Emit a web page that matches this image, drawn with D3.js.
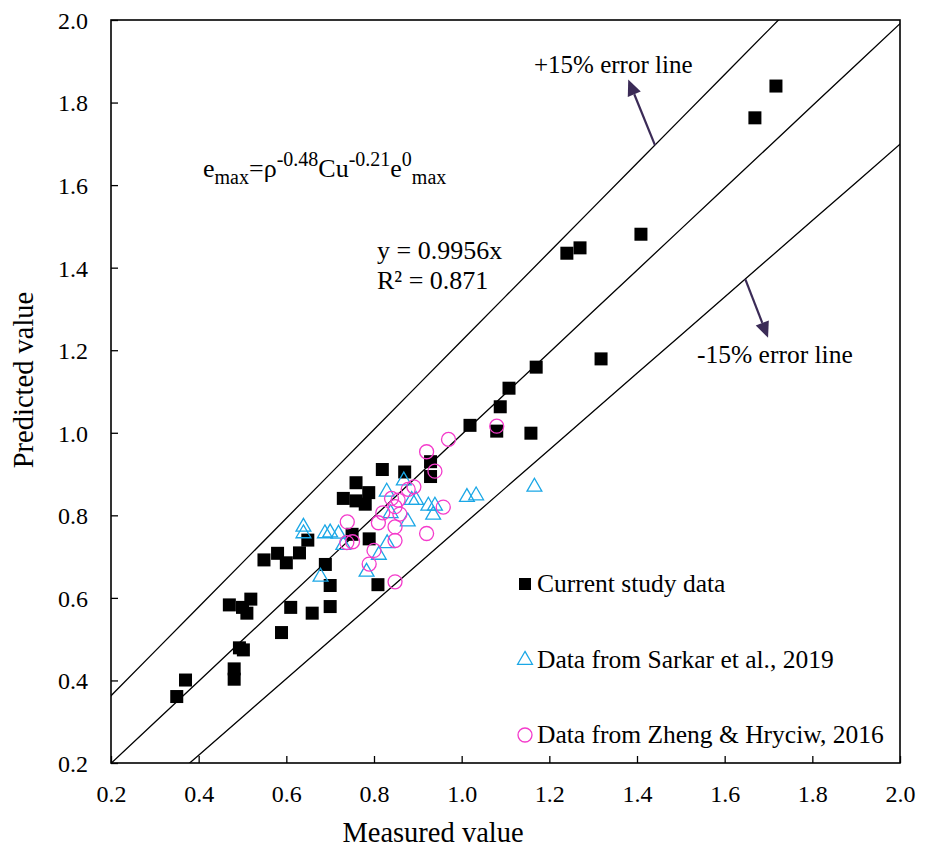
<!DOCTYPE html>
<html>
<head>
<meta charset="utf-8">
<script src="https://cdn.jsdelivr.net/npm/d3@7/dist/d3.min.js"></script>
<style>
  body { margin: 0; background: #fff; }
  text { font-family: "Liberation Serif", "Times New Roman", serif; fill: #000; }
</style>
</head>
<body>
<svg id="chart" width="930" height="849"></svg>
<script>
// Measured vs. predicted e_max for the three data sources
const currentStudy = [
  [0.350, 0.361], [0.370, 0.401], [0.470, 0.583], [0.481, 0.428], [0.481, 0.403],
  [0.493, 0.479], [0.502, 0.474], [0.500, 0.577], [0.510, 0.563], [0.519, 0.597],
  [0.549, 0.692], [0.580, 0.708], [0.589, 0.516], [0.600, 0.685], [0.610, 0.577],
  [0.630, 0.709], [0.649, 0.740], [0.659, 0.563], [0.689, 0.681], [0.700, 0.630],
  [0.700, 0.579], [0.730, 0.841], [0.750, 0.754], [0.759, 0.879], [0.759, 0.835],
  [0.780, 0.827], [0.788, 0.855], [0.789, 0.743], [0.809, 0.632], [0.819, 0.911],
  [0.870, 0.905], [0.929, 0.894], [0.929, 0.930], [1.019, 1.018], [1.080, 1.004],
  [1.088, 1.063], [1.108, 1.108], [1.158, 0.999], [1.170, 1.159], [1.240, 1.435],
  [1.270, 1.448], [1.318, 1.179], [1.409, 1.481], [1.669, 1.763], [1.717, 1.840]
];
const sarkar2019 = [
  [0.639, 0.772], [0.639, 0.756], [0.688, 0.756], [0.700, 0.758], [0.719, 0.755],
  [0.678, 0.651], [0.783, 0.663], [0.811, 0.704], [0.830, 0.732], [0.730, 0.728],
  [0.829, 0.857], [0.868, 0.884], [0.838, 0.805], [0.877, 0.785], [0.886, 0.837],
  [0.896, 0.837], [0.924, 0.823], [0.939, 0.823], [0.935, 0.801], [1.012, 0.844],
  [1.033, 0.848], [1.166, 0.869]
];
const zhengHryciw2016 = [
  [1.080, 1.016], [0.970, 0.984], [0.920, 0.954], [0.939, 0.907], [0.891, 0.869],
  [0.878, 0.863], [0.840, 0.841], [0.855, 0.837], [0.848, 0.821], [0.820, 0.806],
  [0.859, 0.803], [0.810, 0.782], [0.739, 0.784], [0.848, 0.772], [0.958, 0.820],
  [0.920, 0.756], [0.848, 0.739], [0.738, 0.734], [0.751, 0.736], [0.800, 0.715],
  [0.789, 0.682], [0.848, 0.639]
];
const tickValues = [0.2, 0.4, 0.6, 0.8, 1.0, 1.2, 1.4, 1.6, 1.8, 2.0];
const seriesNames = ["Current study data", "Data from Sarkar et al., 2019", "Data from Zheng & Hryciw, 2016"];
const fitSlope = 0.9956;
const fitR2 = 0.871;
const upperBand = { slope: 1.075, intercept: 0.148 };
const lowerBand = { slope: 0.925, intercept: -0.151 };

const colors = { square: "#000000", triangle: "#1aa7e6", circle: "#f43bcb", arrow: "#3b2b57" };

const svg = d3.select("#chart");
const plot = { left: 111, right: 900, top: 20, bottom: 763 };
const x = d3.scaleLinear().domain([0.2, 2.0]).range([plot.left, plot.right]);
const y = d3.scaleLinear().domain([0.2, 2.0]).range([plot.bottom, plot.top]);
const pw = plot.right - plot.left, ph = plot.bottom - plot.top;

svg.append("defs").append("clipPath").attr("id", "plotClip")
  .append("rect").attr("x", plot.left).attr("y", plot.top).attr("width", pw).attr("height", ph);

// reference lines: fitted line and the ±15% band
const lineGen = d3.line().x(d => x(d[0])).y(d => y(d[1]));
const xs = d3.range(0.0, 2.21, 0.1);
const lines = [
  xs.map(v => [v, fitSlope * v]),
  xs.map(v => [v, upperBand.slope * v + upperBand.intercept]),
  xs.map(v => [v, lowerBand.slope * v + lowerBand.intercept])
];
svg.append("g").attr("clip-path", "url(#plotClip)")
  .selectAll("path").data(lines).join("path")
  .attr("d", lineGen).attr("fill", "none").attr("stroke", "#000").attr("stroke-width", 1.3);

// axes with inward ticks
const xAxis = d3.axisBottom(x).tickValues(tickValues).tickFormat(d3.format(".1f")).tickSizeInner(-7).tickSizeOuter(0).tickPadding(0);
const yAxis = d3.axisLeft(y).tickValues(tickValues).tickFormat(d3.format(".1f")).tickSizeInner(-7).tickSizeOuter(0).tickPadding(0);
const gx = svg.append("g").attr("transform", `translate(0,${plot.bottom})`).call(xAxis);
const gy = svg.append("g").attr("transform", `translate(${plot.left},0)`).call(yAxis);
[gx, gy].forEach(g => {
  g.attr("font-family", null);
  g.select(".domain").remove();
  g.selectAll(".tick line").attr("stroke", "#000").attr("stroke-width", 1.3);
  g.selectAll(".tick text").attr("font-size", 24).attr("fill", "#000");
});
gx.selectAll(".tick text").attr("y", 39).attr("dy", null).attr("text-anchor", "middle");
gy.selectAll(".tick text").attr("x", -23).attr("dy", "0.35em").attr("text-anchor", "end");

svg.append("rect").attr("x", plot.left).attr("y", plot.top).attr("width", pw).attr("height", ph)
  .attr("fill", "none").attr("stroke", "#000").attr("stroke-width", 1.6);

// markers
const gm = svg.append("g").attr("clip-path", "url(#plotClip)");
const sq = 13;
gm.selectAll("rect.cur").data(currentStudy).join("rect").attr("class", "cur")
  .attr("x", d => x(d[0]) - sq / 2).attr("y", d => y(d[1]) - sq / 2)
  .attr("width", sq).attr("height", sq).attr("fill", colors.square);
const tri = d3.symbol().type(d3.symbolTriangle).size(95);
gm.selectAll("path.sar").data(sarkar2019).join("path").attr("class", "sar")
  .attr("d", tri).attr("transform", d => `translate(${x(d[0])},${y(d[1])})`)
  .attr("fill", "none").attr("stroke", colors.triangle).attr("stroke-width", 1.3);
gm.selectAll("circle.zh").data(zhengHryciw2016).join("circle").attr("class", "zh")
  .attr("cx", d => x(d[0])).attr("cy", d => y(d[1])).attr("r", 7)
  .attr("fill", "none").attr("stroke", colors.circle).attr("stroke-width", 1.3);

// arrows pointing from each band line to its label
function arrow(x0, y0, x1, y1) {
  const a = Math.atan2(y1 - y0, x1 - x0), len = 16, hw = 7;
  const bx = x1 - len * Math.cos(a), by = y1 - len * Math.sin(a);
  svg.append("line").attr("x1", x0).attr("y1", y0).attr("x2", bx).attr("y2", by)
    .attr("stroke", colors.arrow).attr("stroke-width", 2.2);
  const px = -Math.sin(a) * hw, py = Math.cos(a) * hw;
  svg.append("path").attr("d", `M${x1},${y1}L${bx + px},${by + py}L${bx - px},${by - py}Z`).attr("fill", colors.arrow);
}
const ua = 1.441, la = 1.647;
arrow(x(ua), y(upperBand.slope * ua + upperBand.intercept), x(1.380), y(1.856));
arrow(x(la), y(lowerBand.slope * la + lowerBand.intercept), x(1.699), y(1.230));

svg.append("text").attr("x", 534).attr("y", 73).attr("font-size", 25).text("+15% error line");
svg.append("text").attr("x", 697).attr("y", 363).attr("font-size", 25.5).text("-15% error line");

// model expression
const eq = svg.append("text").attr("x", 203).attr("y", 177).attr("font-size", 26);
eq.append("tspan").text("e");
eq.append("tspan").attr("font-size", 20).attr("dy", 7).text("max");
eq.append("tspan").attr("dy", -7).text("=ρ");
eq.append("tspan").attr("font-size", 20).attr("dy", -11).text("-0.48");
eq.append("tspan").attr("dy", 11).text("Cu");
eq.append("tspan").attr("font-size", 20).attr("dy", -11).text("-0.21");
eq.append("tspan").attr("dy", 11).text("e");
eq.append("tspan").attr("font-size", 20).attr("dy", -11).text("0");
eq.append("tspan").attr("font-size", 20).attr("dy", 18).text("max");

svg.append("text").attr("x", 377).attr("y", 259).attr("font-size", 26).text(`y = ${fitSlope}x`);
svg.append("text").attr("x", 377).attr("y", 289).attr("font-size", 26).text(`R² = ${fitR2}`);

// legend
const lg = svg.append("g");
const lx = 525, ly = [584, 660, 735];
lg.append("rect").attr("x", lx - 6).attr("y", ly[0] - 6).attr("width", 12).attr("height", 12).attr("fill", colors.square);
lg.append("path").attr("d", tri).attr("transform", `translate(${lx},${ly[1]})`)
  .attr("fill", "none").attr("stroke", colors.triangle).attr("stroke-width", 1.3);
lg.append("circle").attr("cx", lx).attr("cy", ly[2]).attr("r", 7)
  .attr("fill", "none").attr("stroke", colors.circle).attr("stroke-width", 1.3);
lg.selectAll("text").data(seriesNames).join("text")
  .attr("x", 537).attr("y", (d, i) => ly[i] + 8).attr("font-size", 25.5).text(d => d);

// axis titles
svg.append("text").attr("x", 433).attr("y", 842).attr("text-anchor", "middle").attr("font-size", 28.5).text("Measured value");
svg.append("text").attr("transform", "translate(33,380) rotate(-90)").attr("text-anchor", "middle").attr("font-size", 28.5).text("Predicted value");
</script>
</body>
</html>
